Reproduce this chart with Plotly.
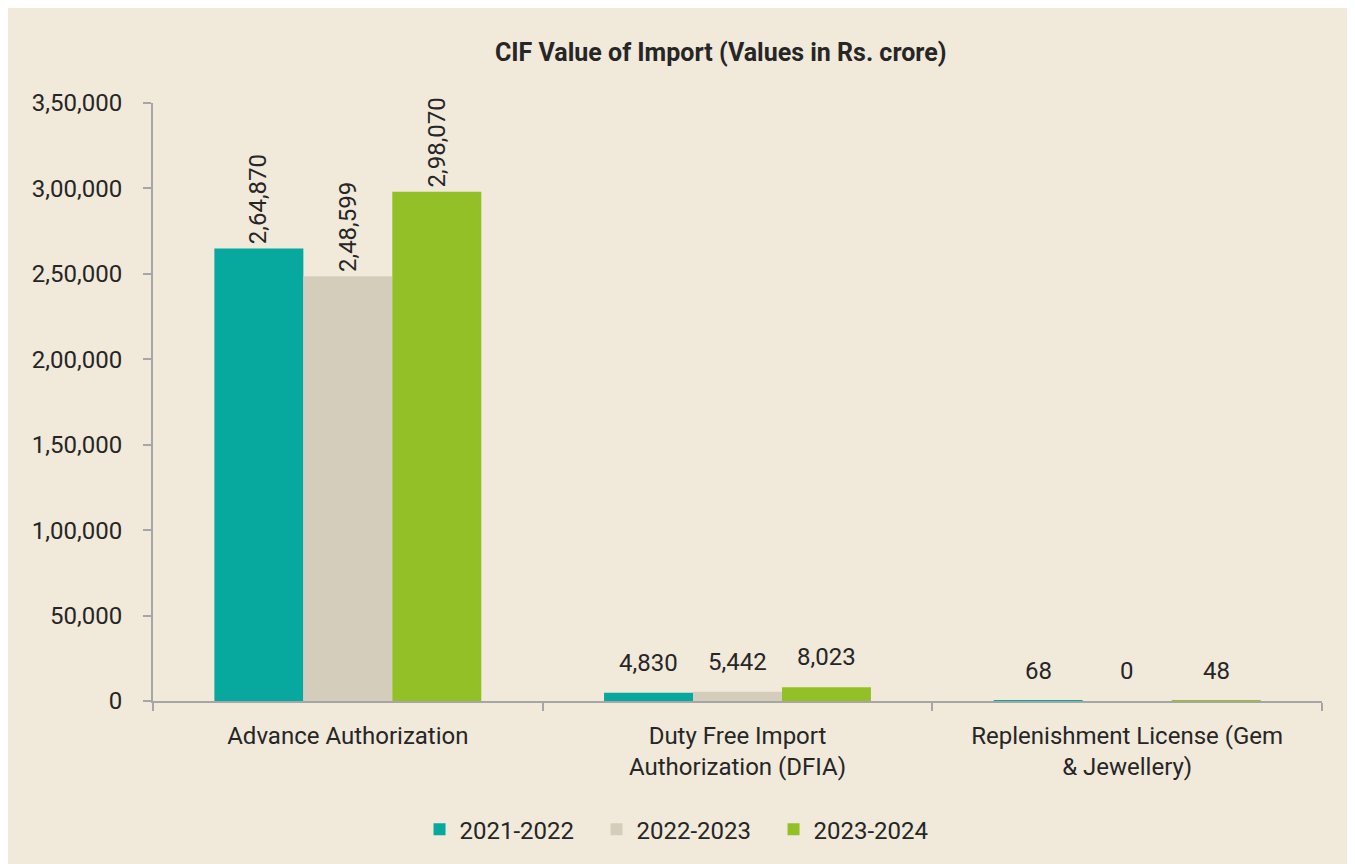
import plotly.graph_objects as go

categories = ["Advance Authorization", "Duty Free Import<br>Authorization (DFIA)",
              "Replenishment License (Gem<br>& Jewellery)"]
series_names = ["2021-2022", "2022-2023", "2023-2024"]
values_2021 = [264870, 4830, 68]
values_2022 = [248599, 5442, 0]
values_2023 = [298070, 8023, 48]
series_values = [values_2021, values_2022, values_2023]
colors = ["#07A99F", "#D5CDBC", "#93C026"]
ytick_vals = [0, 50000, 100000, 150000, 200000, 250000, 300000, 350000]
ytick_text = ["0", "50,000", "1,00,000", "1,50,000", "2,00,000", "2,50,000", "3,00,000", "3,50,000"]


def indian(n):
    s = str(int(n))
    if len(s) <= 3:
        return s
    last3 = s[-3:]
    rest = s[:-3]
    parts = []
    while len(rest) > 2:
        parts.insert(0, rest[-2:])
        rest = rest[:-2]
    if rest:
        parts.insert(0, rest)
    return ",".join(parts) + "," + last3


FONT = "Roboto, sans-serif"
TXT = "#262626"
bargap = 0.315

fig = go.Figure()
for name, vals, col in zip(series_names, series_values, colors):
    fig.add_trace(go.Bar(x=categories, y=vals, name=name, marker=dict(color=col, line=dict(width=0))))

w = (1 - bargap) / 3
annotations = []
for si, vals in enumerate(series_values):
    for ci, v in enumerate(vals):
        xpos = ci + (si - 1) * w
        if ci == 0:
            annotations.append(dict(x=xpos, y=v, xref="x", yref="y", text=indian(v), showarrow=False,
                                    textangle=-90, yanchor="bottom", yshift=2,
                                    font=dict(family=FONT, size=24, color=TXT)))
        else:
            annotations.append(dict(x=xpos, y=v, xref="x", yref="y", text=indian(v), showarrow=False,
                                    yanchor="bottom", yshift=14,
                                    font=dict(family=FONT, size=24, color=TXT)))

fig.update_layout(
    width=1355, height=864,
    paper_bgcolor="#F1E9DA", plot_bgcolor="#F1E9DA",
    margin=dict(l=145, r=41, t=95, b=171),
    barmode="group", bargap=bargap, bargroupgap=0,
    title=dict(text="<b>CIF Value of Import (Values in Rs. crore)</b>", x=0.526, xanchor="center",
               y=0.949, yanchor="middle", font=dict(family=FONT, size=25, color=TXT)),
    font=dict(family=FONT, size=24, color=TXT),
    showlegend=True,
    legend=dict(orientation="h", x=0.228, xanchor="left", y=-0.215, yanchor="middle",
                font=dict(family=FONT, size=24, color=TXT), bgcolor="rgba(0,0,0,0)",
                traceorder="normal", entrywidth=132, entrywidthmode="pixels", itemwidth=30),
    annotations=annotations,
)
fig.update_yaxes(range=[0, 350000], tickvals=ytick_vals, ticktext=ytick_text, showgrid=False,
                 showline=True, linecolor="#A6A6A6", linewidth=2, ticks="outside", ticklen=8,
                 tickcolor="#A6A6A6", tickwidth=2, zeroline=False, ticklabelstandoff=16,
                 tickfont=dict(family=FONT, size=24, color=TXT))
fig.update_xaxes(showgrid=False, showline=True, linecolor="#A6A6A6", linewidth=2, ticks="outside",
                 ticklen=8, tickcolor="#A6A6A6", tickwidth=2, tickson="boundaries",
                 ticklabelstandoff=12,
                 tickfont=dict(family=FONT, size=24, color=TXT))

fig.write_html("out.html")
